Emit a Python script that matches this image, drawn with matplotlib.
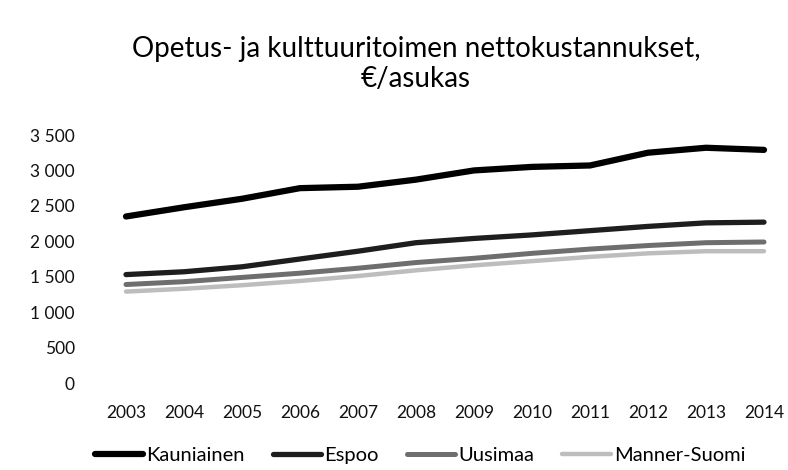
import numpy as np
import matplotlib.pyplot as plt

plt.rcParams['font.family'] = ['Lato', 'DejaVu Sans']

years = ['2003', '2004', '2005', '2006', '2007', '2008',
         '2009', '2010', '2011', '2012', '2013', '2014']
kauniainen = [2350, 2480, 2600, 2750, 2770, 2870, 3000, 3050, 3070, 3250, 3320, 3290]
espoo = [1530, 1570, 1640, 1750, 1860, 1980, 2040, 2090, 2150, 2210, 2260, 2270]
uusimaa = [1390, 1430, 1490, 1550, 1620, 1700, 1760, 1830, 1890, 1940, 1980, 1990]
manner_suomi = [1290, 1330, 1380, 1440, 1510, 1590, 1660, 1720, 1780, 1830, 1860, 1860]
yticks = [0, 500, 1000, 1500, 2000, 2500, 3000, 3500]

fig = plt.figure(figsize=(7.88, 4.70), dpi=100)
ax = fig.add_axes([97 / 788, 1 - 383 / 470, 696 / 788, 248 / 470])

x = np.arange(len(years))
ax.plot(x, kauniainen, color='#000000', linewidth=4.5, label='Kauniainen', solid_capstyle='round')
ax.plot(x, espoo, color='#1e1e1e', linewidth=3.8, label='Espoo', solid_capstyle='round')
ax.plot(x, uusimaa, color='#6e6e6e', linewidth=3.6, label='Uusimaa', solid_capstyle='round')
ax.plot(x, manner_suomi, color='#bdbdbd', linewidth=3.2, label='Manner-Suomi', solid_capstyle='round')

ax.set_xlim(-0.5, 11.5)
ax.set_ylim(0, 3500)
ax.set_xticks(x)
ax.set_xticklabels(years)
ax.set_yticks(yticks)
ax.set_yticklabels([f'{v:,}'.replace(',', ' ') for v in yticks])
ax.tick_params(axis='both', length=0, labelsize=12.5, labelcolor='#111111')
ax.tick_params(axis='y', pad=16)
ax.tick_params(axis='x', pad=16)
for s in ax.spines.values():
    s.set_visible(False)

fig.text(416 / 788, 1 - 64 / 470, 'Opetus- ja kulttuuritoimen nettokustannukset,\n€/asukas',
         ha='center', va='center', fontsize=20, linespacing=1.2)

fig.legend(loc='center', bbox_to_anchor=(420 / 788, 1 - 455 / 470), ncol=4, frameon=False,
           fontsize=14.5, handlelength=2.4, columnspacing=1.4, handletextpad=0.15,
           borderpad=0.1)

fig.savefig('out.png', dpi=100)
